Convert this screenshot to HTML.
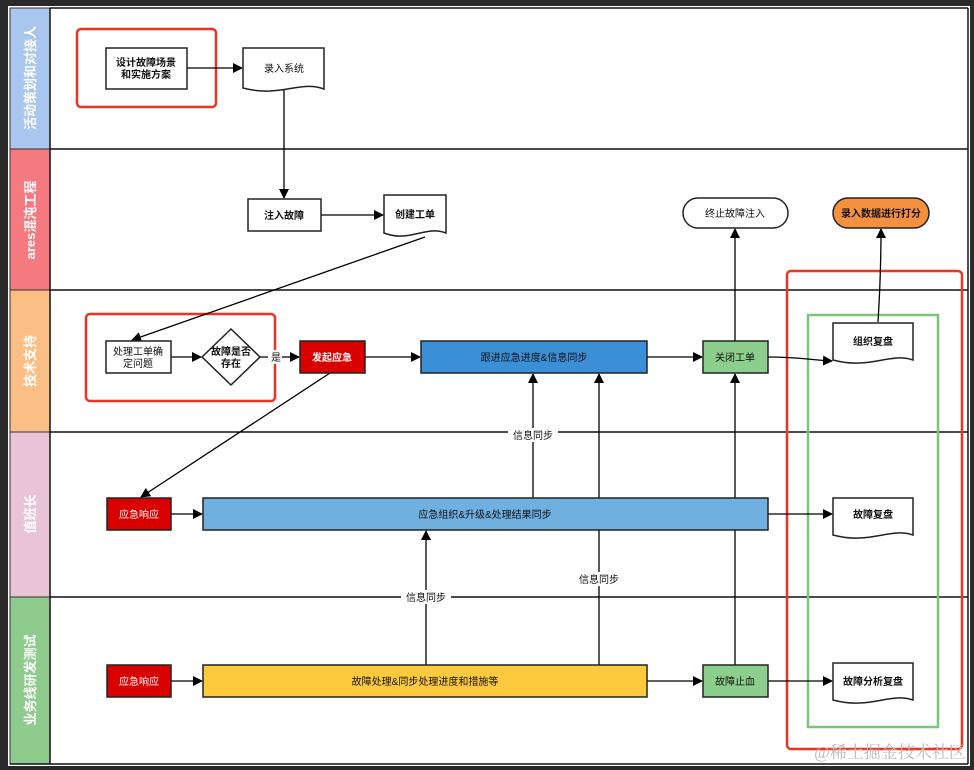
<!DOCTYPE html>
<html><head><meta charset="utf-8"><style>
html,body{margin:0;padding:0;background:#fff;}
svg{display:block;font-family:"Liberation Sans","Noto Sans CJK SC",sans-serif;}
</style></head><body>
<svg width="974" height="770" viewBox="0 0 974 770" xmlns="http://www.w3.org/2000/svg">
<defs>
<marker id="a" markerWidth="10" markerHeight="10" refX="9" refY="5" orient="auto" markerUnits="userSpaceOnUse"><path d="M0,0 L10,5 L0,10 Z" fill="#000"/></marker>
</defs>
<rect x="0" y="0" width="974" height="770" fill="#2a2a2a"/>
<rect x="8" y="6" width="962" height="760" fill="#fff"/>
<!-- lanes -->
<rect x="10" y="8" width="40" height="141" fill="#a8c6ee" stroke="#333" stroke-width="1"/>
<rect x="10" y="149" width="40" height="141" fill="#f47a80" stroke="#333" stroke-width="1"/>
<rect x="10" y="290" width="40" height="142" fill="#fbbf86" stroke="#333" stroke-width="1"/>
<rect x="10" y="432" width="40" height="165" fill="#e9c3d6" stroke="#333" stroke-width="1"/>
<rect x="10" y="597" width="40" height="167" fill="#8fcb8c" stroke="#333" stroke-width="1"/>
<g stroke="#111" stroke-width="1.5">
<line x1="50" y1="8" x2="968" y2="8"/>
<line x1="50" y1="149" x2="968" y2="149"/>
<line x1="50" y1="290" x2="968" y2="290"/>
<line x1="50" y1="432" x2="968" y2="432"/>
<line x1="50" y1="597" x2="968" y2="597"/>
<line x1="10" y1="764" x2="968" y2="764"/>
<line x1="968" y1="8" x2="968" y2="764"/>
<line x1="50" y1="8" x2="50" y2="764"/>
</g>
<g fill="#fff" font-size="13" font-weight="bold" text-anchor="middle">
<text transform="translate(35,78) rotate(-90)">活动策划和对接人</text>
<text transform="translate(35,220) rotate(-90)">ares混沌工程</text>
<text transform="translate(35,361) rotate(-90)">技术支持</text>
<text transform="translate(35,514) rotate(-90)">值班长</text>
<text transform="translate(35,680) rotate(-90)">业务线研发测试</text>
</g>
<!-- red / green highlights -->
<rect x="77" y="29" width="139" height="78" rx="4" fill="none" stroke="#ee3322" stroke-width="2.5"/>
<rect x="86" y="314" width="189" height="87" rx="4" fill="none" stroke="#ee3322" stroke-width="2.5"/>
<rect x="787" y="271" width="175" height="478" rx="4" fill="none" stroke="#ee3322" stroke-width="2.5"/>
<rect x="808" y="315" width="130" height="412" fill="none" stroke="#7cc47a" stroke-width="2.5"/>
<!-- connectors -->
<g stroke="#000" stroke-width="1.3" fill="none" marker-end="url(#a)">
<line x1="187" y1="68" x2="242" y2="68"/>
<line x1="284" y1="90" x2="284" y2="198"/>
<line x1="321" y1="215" x2="383" y2="215"/>
<line x1="425" y1="237" x2="132" y2="340"/>
<line x1="171" y1="357" x2="201" y2="357"/>
<line x1="260" y1="357" x2="299" y2="357"/>
<line x1="365" y1="357" x2="420" y2="357"/>
<line x1="647" y1="357" x2="702" y2="357"/>
<path d="M768,357 C800,357 810,360 832,361"/>
<line x1="735" y1="341" x2="735" y2="229"/>
<path d="M878,322 C880,290 881,260 881,229"/>
<line x1="330" y1="373" x2="141" y2="497"/>
<line x1="171" y1="514" x2="202" y2="514"/>
<line x1="768" y1="514" x2="832" y2="514"/>
<line x1="533" y1="498" x2="533" y2="374"/>
<line x1="171" y1="681" x2="202" y2="681"/>
<line x1="647" y1="681" x2="702" y2="681"/>
<line x1="768" y1="681" x2="832" y2="681"/>
<line x1="426" y1="665" x2="426" y2="531"/>
<line x1="599" y1="665" x2="599" y2="374"/>
<line x1="735" y1="665" x2="735" y2="374"/>
</g>
<!-- label backgrounds -->
<g fill="#fff"><rect x="508" y="428" width="50" height="14"/><rect x="401" y="590" width="50" height="14"/><rect x="574" y="572" width="50" height="14"/><rect x="268" y="350" width="14" height="14"/></g>
<g font-size="10" text-anchor="middle" fill="#111">
<text x="533" y="439">信息同步</text>
<text x="426" y="601">信息同步</text>
<text x="599" y="583">信息同步</text>
<text x="276" y="361">是</text>
</g>
<!-- nodes -->
<g stroke="#222" stroke-width="1.5">
<rect x="106" y="48" width="81" height="41" fill="#fff"/>
<path d="M243,48 H324 V89 C300,80 280,98 243,88 Z" fill="#fff"/>
<rect x="248" y="199" width="73" height="32" fill="#fff"/>
<path d="M384,195 H446 V233 C425,225 410,243 384,233 Z" fill="#fff"/>
<rect x="683" y="198" width="105" height="30" rx="15" fill="#fff"/>
<rect x="833" y="198" width="96" height="30" rx="15" fill="#f5903f"/>
<rect x="106" y="341" width="65" height="32" fill="#fff"/>
<path d="M231,329 L260,357 L231,385 L202,357 Z" fill="#fff"/>
<rect x="300" y="341" width="65" height="32" fill="#d90000"/>
<rect x="421" y="341" width="226" height="32" fill="#3a8fd6"/>
<rect x="703" y="341" width="65" height="32" fill="#8ccf8c"/>
<path d="M833,323 H913 V360 C890,352 870,370 833,360 Z" fill="#fff"/>
<rect x="107" y="498" width="64" height="32" fill="#d90000"/>
<rect x="203" y="498" width="565" height="32" fill="#6fb0e0"/>
<path d="M833,498 H913 V535 C890,527 870,545 833,535 Z" fill="#fff"/>
<rect x="107" y="665" width="64" height="32" fill="#d90000"/>
<rect x="203" y="665" width="444" height="32" fill="#fdc93d"/>
<rect x="703" y="665" width="65" height="32" fill="#8ccf8c"/>
<path d="M833,663 H913 V700 C890,692 870,710 833,700 Z" fill="#fff"/>
</g>
<g font-size="10" text-anchor="middle" fill="#111">
<text x="146" y="66" font-weight="bold">设计故障场景</text>
<text x="146" y="78" font-weight="bold">和实施方案</text>
<text x="284" y="72">录入系统</text>
<text x="284" y="219" font-weight="bold">注入故障</text>
<text x="415" y="218" font-weight="bold">创建工单</text>
<text x="735" y="217">终止故障注入</text>
<text x="881" y="217" font-weight="bold">录入数据进行打分</text>
<text x="138" y="355">处理工单确</text>
<text x="138" y="367">定问题</text>
<text x="231" y="355" font-weight="bold">故障是否</text>
<text x="231" y="367" font-weight="bold">存在</text>
<text x="332" y="361" fill="#fff" font-weight="bold">发起应急</text>
<text x="534" y="361">跟进应急进度&amp;信息同步</text>
<text x="735" y="361">关闭工单</text>
<text x="873" y="345" font-weight="bold">组织复盘</text>
<text x="139" y="518" fill="#fff">应急响应</text>
<text x="485" y="518">应急组织&amp;升级&amp;处理结果同步</text>
<text x="873" y="518" font-weight="bold">故障复盘</text>
<text x="139" y="685" fill="#fff">应急响应</text>
<text x="425" y="685">故障处理&amp;同步处理进度和措施等</text>
<text x="735" y="685">故障止血</text>
<text x="873" y="685" font-weight="bold">故障分析复盘</text>
</g>
<text x="890" y="758" font-size="17" text-anchor="middle" fill="#bbb" font-family="Liberation Serif,'Noto Serif CJK SC',serif">@稀土掘金技术社区</text>
</svg>
</body></html>
